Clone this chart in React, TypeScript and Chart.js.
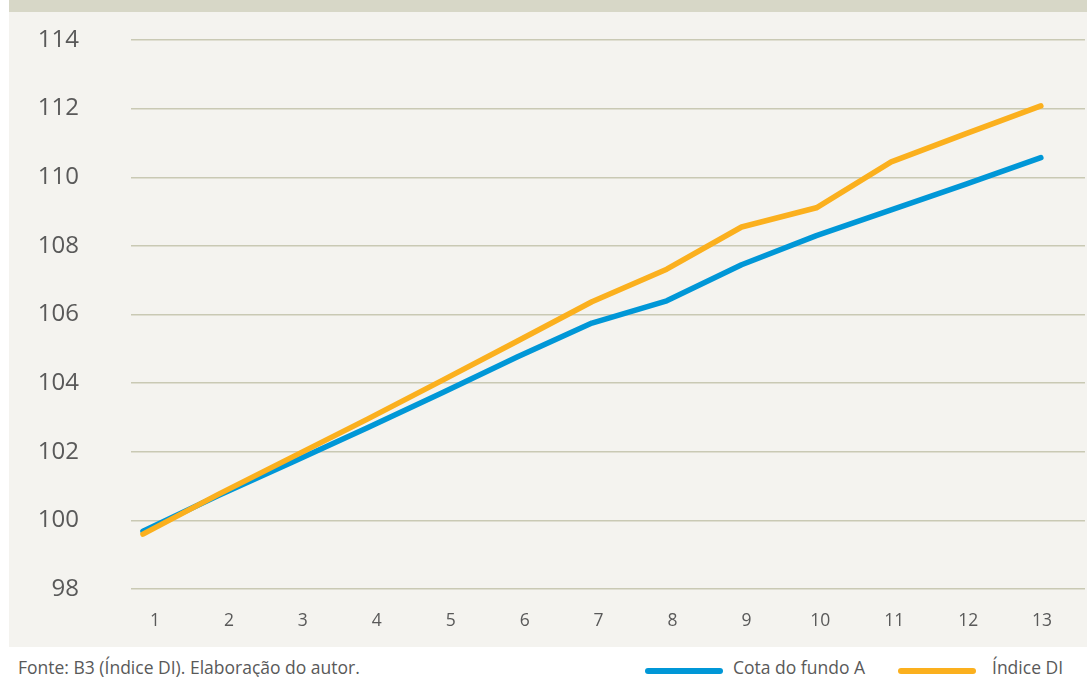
import React, { useEffect, useRef } from "react";
import { Chart, registerables } from "chart.js";

Chart.register(...registerables);

const categories = ["1", "2", "3", "4", "5", "6", "7", "8", "9", "10", "11", "12", "13"];
const cotaFundoA = [99.68, 100.72, 101.7, 102.7, 103.72, 104.76, 105.75, 106.4, 107.45, 108.3, 109.05, 109.8, 110.57];
const indiceDI = [99.6, 100.75, 101.85, 102.95, 104.08, 105.22, 106.37, 107.32, 108.55, 109.11, 110.45, 111.27, 112.08];
const seriesNames = ["Cota do fundo A", "Índice DI"];
const yMin = 98;
const yMax = 114;
const yStep = 2;
const sourceText = "Fonte: B3 (Índice DI). Elaboração do autor.";

const BLUE = "#0097d7";
const ORANGE = "#fbb01e";
const TEXT = "#595959";
const FONT = "'Open Sans', sans-serif";
const CLEAR = "rgba(0,0,0,0)";

export default function App() {
  const ref = useRef<HTMLCanvasElement | null>(null);

  useEffect(() => {
    if (!ref.current) return;
    const toPts = (arr: number[]) => arr.map((v, i) => ({ x: i + 1, y: v }));
    const chart = new Chart(ref.current, {
      type: "line",
      data: {
        datasets: [
          {
            label: seriesNames[0],
            data: toPts(cotaFundoA),
            borderColor: BLUE,
            backgroundColor: BLUE,
            borderWidth: 5.5,
            pointRadius: 0,
            tension: 0,
            borderCapStyle: "round",
            borderJoinStyle: "round",
            order: 1,
            xAxisID: "x",
          },
          {
            label: seriesNames[1],
            data: toPts(indiceDI),
            borderColor: ORANGE,
            backgroundColor: ORANGE,
            borderWidth: 5.5,
            pointRadius: 0,
            tension: 0,
            borderCapStyle: "round",
            borderJoinStyle: "round",
            order: 0,
            xAxisID: "x",
          },
        ],
      },
      options: {
        responsive: false,
        animation: false,
        layout: { padding: { left: 0, right: 2, top: 40, bottom: 0 } },
        plugins: {
          legend: { display: false },
          tooltip: { enabled: false },
        },
        scales: {
          x: {
            type: "linear",
            min: 0.84,
            max: 13.59,
            display: false,
            grid: { display: false },
          },
          xl: {
            type: "linear",
            position: "bottom",
            min: 0.675,
            max: 13.58,
            border: { display: false },
            grid: { drawOnChartArea: false, drawTicks: true, tickLength: 22, tickColor: CLEAR, color: CLEAR },
            afterFit: (s: any) => {
              s.height = 58;
            },
            ticks: {
              stepSize: 1,
              includeBounds: false,
              autoSkip: false,
              maxRotation: 0,
              padding: 0,
              color: TEXT,
              font: { family: FONT, size: 17.5 },
              callback: (v: any) => {
                const i = Math.round(Number(v)) - 1;
                return categories[i] ?? "";
              },
            },
          },
          y: {
            min: yMin,
            max: yMax,
            border: { display: false },
            afterFit: (s: any) => {
              s.width = 131;
            },
            grid: {
              color: "#c9c9b4",
              lineWidth: 1.5,
              drawTicks: true,
              tickLength: 52,
              tickColor: CLEAR,
            },
            ticks: {
              stepSize: yStep,
              padding: 0,
              color: TEXT,
              font: { family: FONT, size: 24 },
            },
          },
        },
      },
    });
    return () => chart.destroy();
  }, []);

  const legendText: React.CSSProperties = {
    position: "absolute",
    top: 659,
    fontFamily: FONT,
    fontSize: 17.5,
    lineHeight: "17px",
    color: TEXT,
    whiteSpace: "nowrap",
  };
  const lineStyle = (left: number, color: string): React.CSSProperties => ({
    position: "absolute",
    left,
    top: 668,
    width: 78,
    height: 5.5,
    borderRadius: 3,
    background: color,
  });

  return (
    <div
      style={{
        position: "fixed",
        left: 0,
        top: 0,
        width: 1087,
        height: 677,
        background: "#ffffff",
        overflow: "hidden",
      }}
    >
      <div style={{ position: "absolute", left: 9, top: 0, right: 0, height: 12, background: "#d7d7c7" }} />
      <div style={{ position: "absolute", left: 9, top: 12, right: 0, height: 635, background: "#f4f3ef" }} />
      <canvas
        ref={ref}
        width={1087}
        height={647}
        style={{ position: "absolute", left: 0, top: 0, width: 1087, height: 647 }}
      />
      <div style={{ ...legendText, left: 18 }}>{sourceText}</div>
      <div style={lineStyle(645, BLUE)} />
      <div style={{ ...legendText, left: 733 }}>{seriesNames[0]}</div>
      <div style={lineStyle(898, ORANGE)} />
      <div style={{ ...legendText, left: 992 }}>{seriesNames[1]}</div>
    </div>
  );
}
